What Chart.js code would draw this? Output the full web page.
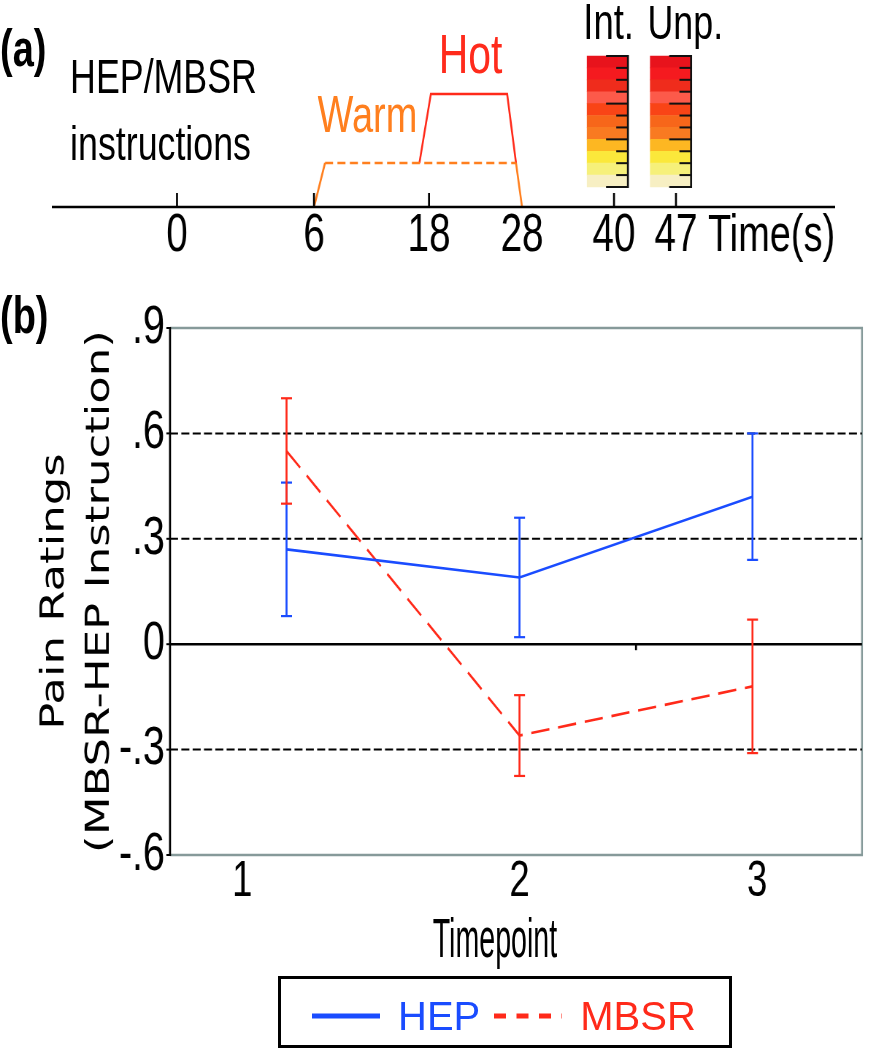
<!DOCTYPE html>
<html>
<head>
<meta charset="utf-8">
<title>Pain ratings by timepoint</title>
<script src="https://cdn.jsdelivr.net/npm/chart.js@4.4.1/dist/chart.umd.min.js"></script>
<style>
  html, body { margin: 0; padding: 0; background: #fff; }
  body { position: relative; width: 869px; height: 1050px; overflow: hidden; font-family: 'Liberation Sans', Arial, sans-serif; }
  /* figure is laid out 1/0.73 wide, then squeezed horizontally like the original */
  #fig { position: absolute; left: 0; top: 0; width: 1190px; height: 1050px; transform: scaleX(0.73); transform-origin: 0 0; }
  #fig canvas { position: absolute; left: 0; }
  #timeline { top: 0; }
  #ratings { top: 280px; }
  .note { position: absolute; white-space: nowrap; line-height: 1; color: #000; }
  .panel { left: 0; font-weight: bold; font-size: 52px; }
  #xtitle { left: 678px; top: 910px; font-size: 56px; transform: translateX(-50%) scaleX(0.7); }
  #legend { position: absolute; left: 278px; top: 976px; width: 454px; height: 72px; box-sizing: border-box;
            border: 3px solid #000; display: flex; align-items: center; padding: 8px 0 0 31px; font-size: 40px; }
  #legend .item { display: flex; align-items: center; margin-right: 14px; }
  #legend svg { margin-right: 18px; }
</style>
</head>
<body>
<div id="fig">
  <canvas id="timeline" width="1190" height="268"></canvas>
  <canvas id="ratings" width="1190" height="700"></canvas>

  <div class="note panel" style="top:22px">(a)</div>
  <div class="note panel" style="top:289px">(b)</div>
  <div class="note" style="left:96px; top:43px; font-size:49px; line-height:67px">HEP/MBSR<br>instructions</div>
  <div class="note" style="left:435px; top:88px; font-size:52px; color:#ff7f1e">Warm</div>
  <div class="note" style="left:601px; top:26px; font-size:56px; color:#ff2b1c">Hot</div>
  <div class="note" style="left:799px; top:-3px; font-size:50px">Int.</div>
  <div class="note" style="left:887px; top:-2px; font-size:49px">Unp.</div>
  <div class="note" id="xtitle">Timepoint</div>
</div>
<div id="legend"></div>

<script>
// panel (a): trial timeline, seconds
const timeTicks = [0, 6, 18, 28, 40, 47]
const markedTicks = [0, 6, 18, 40, 47]
const warmTimes = [6, 7.15, 27.35, 28]
const warmLevels = [0, 1, 1, 0]
const hotTimes = [17, 18.2, 26.4, 27.35]
const hotLevels = [1, 2.57, 2.57, 1]
const ratingTimes = [39.15, 46.4]          // Int. and Unp. rating scales
const ratingLevels = [0, 1, 2, 3, 4, 5, 6, 7, 8, 9, 10]
const ratingColors = ['#f7efc3', '#f6f07a', '#fbe83b', '#fdb722', '#f97a21', '#f7661a',
                      '#f94416', '#fc5a4a', '#ef2c1c', '#f51a1f', '#e8131c']
const majorLevels = [0, 4, 7, 11]

// panel (b): MBSR-HEP difference in pain ratings
const timepoints = [1, 2, 3]
const xTickValues = [0.81, 2, 3.02]
const xTickLabels = ['1', '2', '3']
const minorXTicks = [2.5]
const yTickValues = [-0.6, -0.3, 0, 0.3, 0.6, 0.9]
const hepMean = [0.27, 0.19, 0.42]
const hepSE = [0.19, 0.17, 0.18]
const mbsrMean = [0.55, -0.26, -0.12]
const mbsrSE = [0.15, 0.115, 0.19]

const BLUE = '#1a4cff'
const RED = '#ff2a1a'
const ORANGE = '#ff7f1e'
const FRAME = '#869a9a'

// the time axis in (a) is schematic, not to scale: each tick sits at a fixed fraction
const axisFracs = [0.1598, 0.3347, 0.4815, 0.6003, 0.7177, 0.7968]

class SchematicScale extends Chart.LinearScale {
  getPixelForValue(value) {
    let i = 0
    while (i < timeTicks.length - 2 && value > timeTicks[i + 1]) i++
    const t0 = timeTicks[i], t1 = timeTicks[i + 1]
    const f = axisFracs[i] + (value - t0) / (t1 - t0) * (axisFracs[i + 1] - axisFracs[i])
    return this.left + f * this.width
  }
}
SchematicScale.id = 'schematic'
SchematicScale.defaults = {}
Chart.register(SchematicScale)

function line(ctx, x1, y1, x2, y2) {
  ctx.beginPath()
  ctx.moveTo(x1, y1)
  ctx.lineTo(x2, y2)
  ctx.stroke()
}

// axis line of (a) with its upward tick marks
const timeAxis = {
  id: 'timeAxis',
  afterDraw(chart) {
    const { ctx, chartArea: a, scales: { x } } = chart
    ctx.save()
    ctx.strokeStyle = '#000'
    ctx.lineWidth = 2.5
    line(ctx, a.left, a.bottom, a.right, a.bottom)
    ctx.lineWidth = 2.7
    markedTicks.forEach(t => {
      const px = x.getPixelForValue(t)
      line(ctx, px, a.bottom, px, a.bottom - 14)
    })
    ctx.restore()
  }
}

// black ruler on the right of each rating scale
const ratingRuler = {
  id: 'ratingRuler',
  afterDatasetsDraw(chart) {
    const { ctx, scales: { y2 } } = chart
    const meta = chart.getDatasetMeta(2)
    const top = y2.getPixelForValue(ratingLevels.length)
    const bottom = y2.getPixelForValue(0)
    ctx.save()
    ctx.strokeStyle = '#111'
    meta.data.forEach(bar => {
      const right = bar.x + bar.width / 2
      ctx.lineWidth = 2.7
      line(ctx, right, top - 1, right, bottom + 1)
      ctx.lineWidth = 2
      for (let k = 0; k <= ratingLevels.length; k++) {
        const py = y2.getPixelForValue(k)
        const len = majorLevels.includes(k) ? 30 : 16
        line(ctx, right - len, py, right, py)
      }
    })
    ctx.restore()
  }
}

new Chart(document.getElementById('timeline'), {
  type: 'line',
  data: {
    datasets: [
      {
        label: 'Warm',
        data: warmTimes.map((t, i) => ({ x: t, y: warmLevels[i] })),
        borderColor: ORANGE,
        borderWidth: 2.6,
        pointRadius: 0,
        segment: { borderDash: (c) => c.p0DataIndex === 1 ? [11, 6] : undefined }
      },
      {
        label: 'Hot',
        data: hotTimes.map((t, i) => ({ x: t, y: hotLevels[i] })),
        borderColor: RED,
        borderWidth: 2.6,
        pointRadius: 0
      },
      ...ratingLevels.map(lvl => ({
        type: 'bar',
        label: 'rating ' + lvl,
        data: ratingTimes.map(t => ({ x: t, y: [lvl, lvl + 1] })),
        backgroundColor: ratingColors[lvl],
        borderWidth: 0,
        barThickness: 56,
        grouped: false,
        yAxisID: 'y2'
      }))
    ]
  },
  options: {
    responsive: false,
    animation: false,
    events: [],
    layout: { padding: { left: 71, right: 46, top: 0, bottom: 0 } },
    plugins: { legend: { display: false }, tooltip: { enabled: false } },
    scales: {
      x: {
        type: 'schematic',
        min: 0,
        max: 47,
        offset: false,
        afterBuildTicks: (s) => { s.ticks = timeTicks.map(v => ({ value: v })) },
        afterFit: (s) => { s.height = 61 },
        grid: { display: false, drawTicks: false },
        border: { display: false },
        ticks: {
          callback: (v) => String(v),
          autoSkip: false,
          maxRotation: 0,
          padding: 2.5,
          color: '#000',
          font: { family: 'Liberation Sans', size: 53, lineHeight: 1 }
        },
        title: {
          display: true,
          text: 'Time(s)',
          align: 'end',
          color: '#000',
          padding: 0,
          font: { family: 'Liberation Sans', size: 52, lineHeight: 1.2 }
        }
      },
      y: { display: false, min: 0, max: 4.705 },
      y2: { display: false, min: -1.68, max: 15.7 }
    }
  },
  plugins: [timeAxis, ratingRuler]
})

// plot frame, zero line and dashed reference lines of (b)
const frameLines = {
  id: 'frameLines',
  beforeDatasetsDraw(chart) {
    const { ctx, chartArea: a, scales: { x, y } } = chart
    ctx.save()
    ctx.strokeStyle = FRAME
    ctx.lineWidth = 2.5
    ctx.beginPath()
    ctx.moveTo(a.left, a.top)
    ctx.lineTo(a.right, a.top)
    ctx.lineTo(a.right, a.bottom)
    ctx.lineTo(a.left, a.bottom)
    ctx.stroke()
    ctx.strokeStyle = '#000'
    yTickValues.forEach(v => {
      const py = y.getPixelForValue(v)
      ctx.setLineDash([])
      ctx.lineWidth = 2
      line(ctx, a.left - 5, py, a.left, py)
      if (v === y.min || v === y.max) return
      if (v === 0) {
        ctx.lineWidth = 2.6
        line(ctx, a.left, py, a.right, py)
        ctx.lineWidth = 2.7
        minorXTicks.forEach(t => {
          const px = x.getPixelForValue(t)
          line(ctx, px, py, px, py + 6)
        })
      } else {
        ctx.setLineDash([11, 4.5])
        line(ctx, a.left, py, a.right, py)
      }
    })
    ctx.setLineDash([])
    ctx.lineWidth = 2.7
    line(ctx, a.left, a.top - 1, a.left, a.bottom + 1)
    ctx.restore()
  }
}

// vertical error bars with caps, read from each dataset's `errors`
const errorBars = {
  id: 'errorBars',
  afterDatasetsDraw(chart) {
    const { ctx, scales: { x, y } } = chart
    ctx.save()
    chart.data.datasets.forEach(ds => {
      ctx.strokeStyle = ds.borderColor
      ds.data.forEach((p, i) => {
        const px = x.getPixelForValue(p.x)
        const hi = y.getPixelForValue(p.y + ds.errors[i])
        const lo = y.getPixelForValue(p.y - ds.errors[i])
        ctx.lineWidth = 2.7
        line(ctx, px, hi, px, lo)
        ctx.lineWidth = 2.2
        line(ctx, px - 7.5, hi, px + 7.5, hi)
        line(ctx, px - 7.5, lo, px + 7.5, lo)
      })
    })
    ctx.restore()
  }
}

const ratingsChart = new Chart(document.getElementById('ratings'), {
  type: 'line',
  data: {
    datasets: [
      {
        label: 'HEP',
        data: timepoints.map((t, i) => ({ x: t, y: hepMean[i] })),
        errors: hepSE,
        borderColor: BLUE,
        borderWidth: 2.6,
        pointRadius: 0
      },
      {
        label: 'MBSR',
        data: timepoints.map((t, i) => ({ x: t, y: mbsrMean[i] })),
        errors: mbsrSE,
        borderColor: RED,
        borderWidth: 2.6,
        borderDash: [25, 12],
        pointRadius: 0
      }
    ]
  },
  options: {
    responsive: false,
    animation: false,
    events: [],
    layout: { padding: { left: 0, right: 9.2, top: 48, bottom: 0 } },
    plugins: { legend: { display: false }, tooltip: { enabled: false } },
    scales: {
      x: {
        type: 'linear',
        min: 0.5,
        max: 3.47,
        afterBuildTicks: (s) => { s.ticks = xTickValues.map(v => ({ value: v })) },
        afterFit: (s) => { s.height = 125 },
        grid: { display: false, drawTicks: false },
        border: { display: false },
        ticks: {
          callback: (v, i) => xTickLabels[i],
          autoSkip: false,
          maxRotation: 0,
          padding: 2.5,
          color: '#000',
          font: { family: 'Liberation Sans', size: 50, lineHeight: 1 }
        }
      },
      y: {
        min: -0.6,
        max: 0.9,
        afterBuildTicks: (s) => { s.ticks = yTickValues.map(v => ({ value: v })) },
        afterFit: (s) => { s.width = 232.9 },
        grid: { display: false, drawTicks: false },
        border: { display: false },
        ticks: {
          callback: (v) => v === 0 ? '0' : (v < 0 ? '-' : '') + '.' + Math.round(Math.abs(v) * 10),
          padding: 7,
          color: '#000',
          font: { family: 'Liberation Sans', size: 54 }
        },
        title: {
          display: true,
          text: ['Pain Ratings', '(MBSR-HEP Instruction)'],
          color: '#000',
          padding: { top: 44, bottom: 0 },
          font: { family: 'DejaVu Sans', size: 45, lineHeight: 1.378 }
        }
      }
    }
  },
  plugins: [frameLines, errorBars]
})

// legend box built from the datasets (kept outside the squeezed figure)
function buildLegend(chart) {
  const box = document.getElementById('legend')
  chart.data.datasets.forEach(ds => {
    const item = document.createElement('span')
    item.className = 'item'
    const dash = ds.borderDash ? ' stroke-dasharray="12 10.5"' : ''
    item.innerHTML =
      `<svg width="68" height="10"><line x1="0" y1="5" x2="68" y2="5" stroke="${ds.borderColor}" stroke-width="5"${dash}/></svg>` +
      `<span style="color:${ds.borderColor}">${ds.label}</span>`
    box.appendChild(item)
  })
}
buildLegend(ratingsChart)
</script>
</body>
</html>
